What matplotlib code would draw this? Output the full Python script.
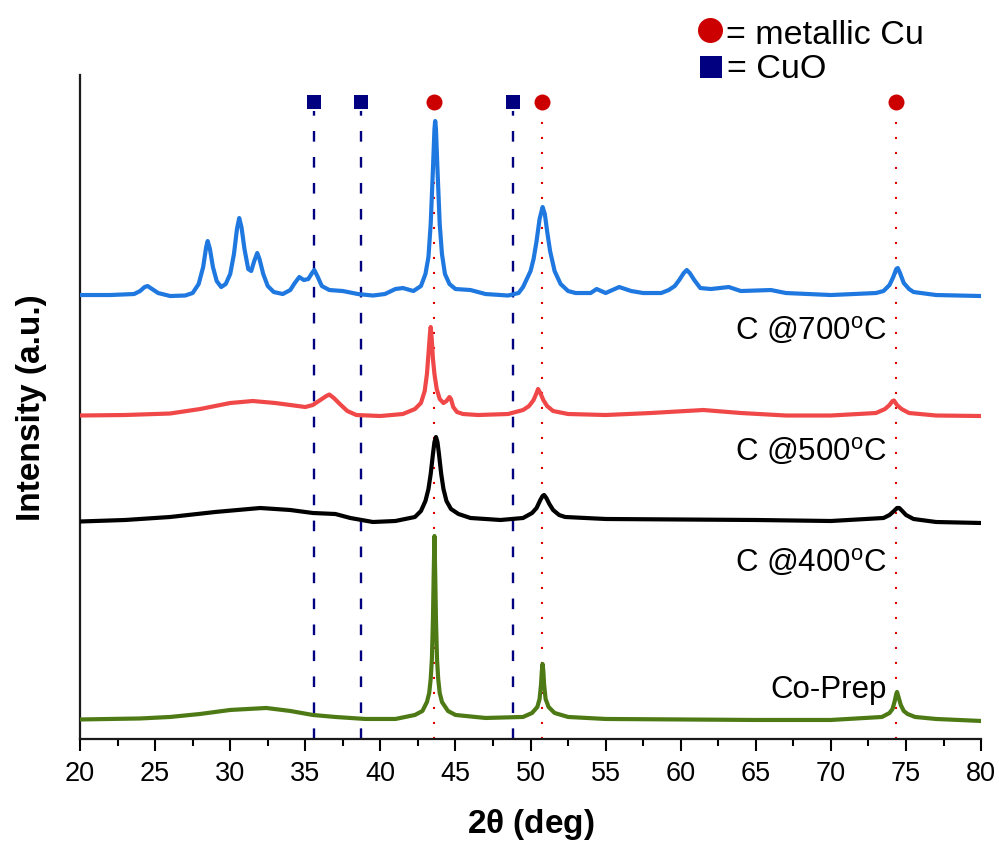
import matplotlib.pyplot as plt
from matplotlib.ticker import MultipleLocator

plt.rcParams['font.family'] = ['Liberation Sans', 'DejaVu Sans']
plt.rcParams['mathtext.fontset'] = 'custom'
plt.rcParams['mathtext.rm'] = 'Liberation Sans'
plt.rcParams['mathtext.bf'] = 'Liberation Sans:bold'

# XRD patterns (intensity already offset, a.u.)
coprep_x = [20, 22, 24, 26, 28, 30, 32.4, 34, 35.5, 37, 39, 41, 42.3, 42.8, 43.1, 43.25,
            43.35, 43.43, 43.5, 43.55, 43.6, 43.65, 43.7, 43.77, 43.85, 43.95, 44.1, 44.5,
            45, 47, 49.5, 50.1, 50.45, 50.6, 50.7, 50.75, 50.8, 50.85, 50.9, 51.0, 51.2,
            51.6, 52.5, 55, 60, 65, 70, 73.4, 73.9, 74.1, 74.25, 74.35, 74.4, 74.5, 74.65,
            74.85, 75.1, 75.6, 77, 80]
coprep_y = [19.5, 20, 20.5, 22, 25, 29, 31, 28, 24, 22, 20, 20, 24, 28, 37, 46,
            60, 80, 120, 165, 203, 165, 120, 80, 60, 46, 37, 28,
            24, 21, 22, 26, 32, 40, 55, 68, 75, 68, 55, 40, 32,
            26, 22, 20, 19.5, 19, 19, 22, 26, 30, 38, 45, 47, 42, 34,
            28, 25, 22, 20, 18]

c400_x = [20, 23, 26, 29, 32, 34, 35.5, 37, 38, 39.5, 41, 42.3, 42.7, 43.0, 43.2, 43.35,
          43.5, 43.6, 43.7, 43.8, 43.9, 44.05, 44.2, 44.4, 44.7, 45.2, 46, 48, 49.5, 50.1,
          50.4, 50.65, 50.8, 50.9, 51.05, 51.25, 51.5, 51.9, 52.3, 55, 60, 65, 70, 73.5,
          73.9, 74.2, 74.4, 74.55, 74.75, 75.0, 75.5, 77, 80]
c400_y = [217.5, 219, 222, 227, 231, 229, 226, 225, 221, 217, 218, 222, 228, 238, 250, 265,
          285, 297, 302, 297, 285, 265, 250, 238, 230, 225, 221, 219, 221, 226,
          231, 239, 243, 244, 241, 235, 229, 224, 222, 220, 219.5, 219, 218, 221,
          224, 228, 231, 231, 228, 224, 220, 217, 216]

c500_x = [20, 23, 26, 28, 30, 31.5, 33, 35, 35.5, 36.0, 36.4, 36.6, 36.9, 37.3, 37.8, 38.4,
          40, 41.5, 42.3, 42.7, 42.95, 43.1, 43.2, 43.3, 43.35, 43.42, 43.5, 43.6, 43.75,
          43.95, 44.2, 44.4, 44.6, 44.7, 44.85, 45.1, 45.5, 46.5, 48.5, 49.5, 49.9, 50.2,
          50.4, 50.5, 50.65, 50.85, 51.1, 51.5, 52.5, 55, 58, 61.5, 64, 67, 70, 73, 73.6,
          73.9, 74.1, 74.2, 74.4, 74.7, 75.2, 77, 80]
c500_y = [323.5, 324, 325.5, 330, 336, 338, 336, 332, 334, 339, 343, 344.5, 341, 335, 328, 324,
          323, 325, 330, 336, 348, 365, 385, 405, 412, 400, 380, 365, 350,
          340, 336, 338, 342, 340, 332, 327, 325, 324, 325, 329, 333, 339,
          346, 350, 346, 339, 333, 328, 325, 324, 326, 329, 326, 323.5, 323.5, 326, 330,
          334, 338, 338.5, 334, 330, 326, 323.5, 323]

c700_x = [20, 22, 23.6, 24.0, 24.3, 24.5, 24.8, 25.2, 26, 27, 27.5, 27.9, 28.2, 28.4, 28.5,
          28.65, 28.85, 29.1, 29.4, 29.7, 30.0, 30.25, 30.45, 30.6, 30.75, 30.95, 31.2,
          31.4, 31.6, 31.8, 31.95, 32.2, 32.5, 32.9, 33.5, 34.0, 34.3, 34.6, 34.9, 35.2,
          35.45, 35.6, 35.8, 36.1, 36.6, 37.5, 38.5, 39.5, 40.3, 41.0, 41.5, 42.2, 42.7,
          43.0, 43.2, 43.35, 43.5, 43.6, 43.65, 43.7, 43.8, 43.95, 44.1, 44.3, 44.6, 45, 46,
          47, 48.5, 49.2, 49.5, 49.75, 50.0, 50.2, 50.4, 50.6, 50.8, 50.95, 51.1, 51.3, 51.6,
          52.0, 52.5, 53, 54, 54.4, 55, 55.9, 56.7, 57.5, 58.7, 59.2, 59.6, 59.9, 60.2, 60.4,
          60.6, 60.9, 61.3, 62, 63.2, 64, 66, 67, 70, 73, 73.5, 73.9, 74.15, 74.35, 74.45,
          74.6, 74.85, 75.2, 75.5, 77, 80]
c700_y = [444, 444, 445, 448, 452, 453, 450, 446, 443, 443.5, 446, 455, 472, 492, 498,
          490, 472, 458, 452, 455, 465, 485, 510, 521, 512, 490, 470,
          468, 478, 486, 480, 465, 453, 447, 445, 449, 456, 462, 459, 460,
          466, 469, 463, 453, 449, 448, 445, 443.5, 445, 450, 451, 448, 453,
          465, 482, 515, 570, 610, 618, 610, 570, 515, 485, 465, 455, 450, 449,
          445, 443.5, 446, 452, 460, 468, 480, 498, 520, 532, 525, 508, 488, 468,
          455, 448, 446, 446, 450, 446, 452, 448, 446, 446, 449, 453, 459, 466, 469,
          466, 459, 451, 450, 452, 448, 449, 446, 444, 446, 448, 454, 462, 470, 471,
          466, 456, 450, 447, 444, 443]

# reference peak positions
cu_peaks = [43.6, 50.75, 74.35]
cuo_peaks = [35.6, 38.7, 48.85]

labels = [r'C @700$^{\mathrm{o}}$C', r'C @500$^{\mathrm{o}}$C', r'C @400$^{\mathrm{o}}$C', 'Co-Prep']
label_y = [409, 288, 177, 50]

fig = plt.figure(figsize=(9.99, 8.45), dpi=100)
ax = fig.add_axes([0.0801, 0.1243, 0.902, 0.7857])

for p in cuo_peaks:
    ax.plot([p, p], [0, 628], color='#000080', lw=1.7, dashes=(4.5, 6.5), zorder=1)
for p in cu_peaks:
    ax.plot([p, p], [0, 622], color='#DD0000', lw=1.5, dashes=(1, 6.2), zorder=1)

ax.plot(coprep_x, coprep_y, color='#4E7A16', lw=3, zorder=3)
ax.plot(c400_x, c400_y, color='black', lw=3, zorder=3)
ax.plot(c500_x, c500_y, color='#F04848', lw=3, zorder=3)
ax.plot(c700_x, c700_y, color='#1E78E0', lw=3, zorder=3)

ax.plot(cuo_peaks, [637] * 3, 's', color='#000080', ms=10.5, mew=0, zorder=4)
ax.plot(cu_peaks, [637] * 3, 'o', color='#CC0000', ms=11.5, mew=0, zorder=4)

for txt, y in zip(labels, label_y):
    ax.text(73.7, y, txt, ha='right', va='center', fontsize=22.5)

# legend drawn by hand in figure coords
fig.lines.append(plt.Line2D([709.7 / 999], [1 - 30.8 / 845], marker='o', color='#CC0000',
                            ms=18, mew=0, transform=fig.transFigure))
fig.lines.append(plt.Line2D([710.7 / 999], [1 - 67.5 / 845], marker='s', color='#000080',
                            ms=16.5, mew=0, transform=fig.transFigure))
fig.text(726 / 999, 1 - 43.5 / 845, '= metallic Cu', fontsize=24.5, va='baseline')
fig.text(727 / 999, 1 - 78.5 / 845, '= CuO', fontsize=24.5, va='baseline')

ax.set_xlim(20, 80)
ax.set_ylim(0, 664)
ax.xaxis.set_major_locator(MultipleLocator(5))
ax.xaxis.set_minor_locator(MultipleLocator(2.5))
ax.tick_params(axis='x', which='major', length=8.5, width=1.5, labelsize=19.5, pad=7)
ax.tick_params(axis='x', which='minor', length=4.8, width=1.5)
ax.set_yticks([])
for s in ['top', 'right']:
    ax.spines[s].set_visible(False)
for s in ['left', 'bottom']:
    ax.spines[s].set_linewidth(1.6)
    ax.spines[s].set_color('#1a1a1a')

ax.set_xlabel(r'2$\mathbf{\theta}$ (deg)', fontsize=24, fontweight='bold', labelpad=14)
ax.set_ylabel('Intensity (a.u.)', fontsize=24, fontweight='bold', labelpad=24)

fig.savefig('out.png', dpi=100)
